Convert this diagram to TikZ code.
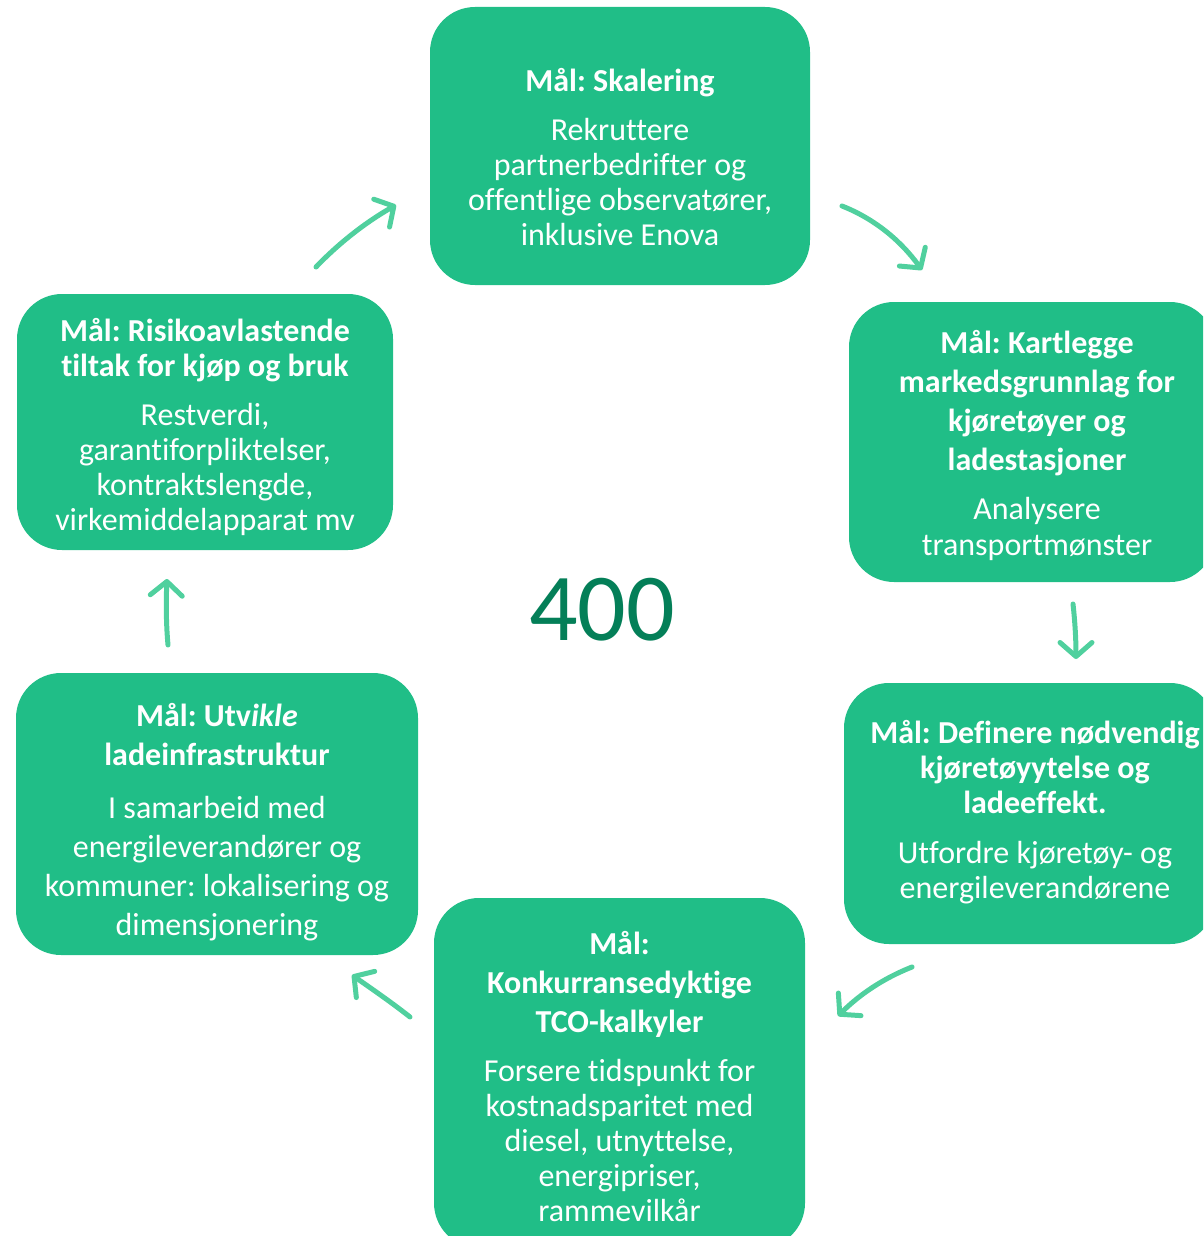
\documentclass[tikz,border=0pt]{standalone}
\usepackage{fontspec}
\setmainfont{Carlito}[Ligatures=NoCommon]
\usetikzlibrary{arrows.meta}
\definecolor{boxgreen}{HTML}{20BE87}
\definecolor{arrowgreen}{HTML}{50D09E}
\definecolor{numgreen}{HTML}{047F58}
\tikzset{
  goal/.style={fill=boxgreen, draw=none, rounded corners=45pt, inner sep=0pt},
  goaltext/.style={text=white, align=center, anchor=base, inner sep=0pt,
    font=\fontsize{32}{35}\selectfont\frenchspacing},
  cyc/.style={draw=arrowgreen, line width=5pt, line cap=round,
    -{Straight Barb[length=14pt,width=32pt,round]}},
}
\begin{document}
\begin{tikzpicture}[x=1pt,y=-1pt]
\useasboundingbox (0,0) rectangle (1203,1236);
\clip (0,0) rectangle (1203,1236);

% boxes
\node[goal, minimum width=380pt, minimum height=278pt] (skal) at (620,146) {};
\node[goal, minimum width=366pt, minimum height=280pt] (kart) at (1032,442) {};
\node[goal, minimum width=371pt, minimum height=261pt] (def) at (1029.5,813.5) {};
\node[goal, minimum width=371pt, minimum height=350pt] (tco) at (619.5,1073) {};
\node[goal, minimum width=402pt, minimum height=282pt] (utv) at (217,814) {};
\node[goal, minimum width=376pt, minimum height=256pt] (risk) at (205,422) {};

% texts (anchor base = baseline of the last line)
\node[goaltext] (skal-t) at (620,245) {\textbf{Mål: Skalering}\\[14pt]Rekruttere\\partnerbedrifter og\\offentlige observatører,\\inklusive Enova};
\node[goaltext] (kart-t) at (1037,555) {\textbf{Mål: Kartlegge}\\[4pt]\textbf{markedsgrunnlag for}\\[4pt]\textbf{kjøretøyer og}\\[4pt]\textbf{ladestasjoner}\\[14pt]Analysere\\[1pt]transportmønster};
\node[goaltext] (def-t) at (1035,898) {\textbf{Mål: Definere nødvendig}\\\textbf{kjøretøyytelse og}\\\textbf{ladeeffekt.}\\[15pt]Utfordre kjøretøy- og\\energileverandørene};
\node[goaltext] (tco-t) at (619.5,1221) {\textbf{Mål:}\\[4pt]\textbf{Konkurransedyktige}\\[4pt]\textbf{TCO-kalkyler}\\[14pt]Forsere tidspunkt for\\kostnadsparitet med\\diesel, utnyttelse,\\energipriser,\\rammevilkår};
\node[goaltext] (utv-t) at (217,935) {\textbf{Mål: Utv\textit{ikle}}\\[4pt]\textbf{ladeinfrastruktur}\\[18pt]I samarbeid med\\[4pt]energileverandører og\\[4pt]kommuner: lokalisering og\\[4pt]dimensjonering};
\node[goaltext] (risk-t) at (205,530) {\textbf{Mål: Risikoavlastende}\\\textbf{tiltak for kjøp og bruk}\\[14pt]Restverdi,\\garantiforpliktelser,\\kontraktslengde,\\virkemiddelapparat mv};

% centre number
\node[text=numgreen, anchor=base, inner sep=0pt, font=\fontsize{96}{100}\selectfont] (num) at (602,640) {400};

% arrow end points
\coordinate (a1s) at (316,267); \coordinate (a1e) at (396,205);
\coordinate (a2s) at (842,206); \coordinate (a2e) at (922,270);
\coordinate (a3s) at (1073,604); \coordinate (a3e) at (1076,659);
\coordinate (a4s) at (912,967); \coordinate (a4e) at (838,1016);
\coordinate (a5s) at (410,1017); \coordinate (a5e) at (352,975);
\coordinate (a6s) at (168,645); \coordinate (a6e) at (167,579);

\draw[cyc] (a1s) .. controls (339,243) and (366,222) .. (a1e);
\draw[cyc] (a2s) .. controls (875,219) and (901,241) .. (a2e);
\draw[cyc] (a3s) .. controls (1075,622) and (1076,640) .. (a3e);
\draw[cyc] (a4s) .. controls (884,978) and (860,994) .. (a4e);
\draw[cyc] (a5s) .. controls (391,1002) and (372,989) .. (a5e);
\draw[cyc] (a6s) .. controls (166,623) and (166,601) .. (a6e);
\end{tikzpicture}
\end{document}
